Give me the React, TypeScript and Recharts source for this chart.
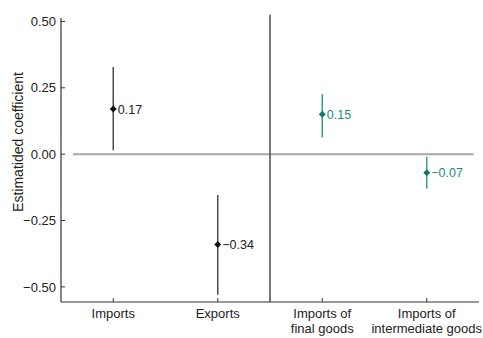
import {
  ComposedChart,
  Scatter,
  ErrorBar,
  XAxis,
  YAxis,
  ReferenceLine,
} from "recharts";

document.body.style.margin = "0";

const categories = ["Imports", "Exports", "Imports of final goods", "Imports of intermediate goods"];
const tickLabels = [["Imports"], ["Exports"], ["Imports of", "final goods"], ["Imports of", "intermediate goods"]];
const estimates = [0.17, -0.34, 0.15, -0.07];
const lower = [0.015, -0.53, 0.063, -0.129];
const upper = [0.328, -0.154, 0.226, -0.01];
const groups = ["trade", "trade", "goods", "goods"];
const yTicks = [-0.5, -0.25, 0, 0.25, 0.5];

const BLACK = "#111111";
const WHISKER = "#4a4a4a";
const TEAL = "#0e7a68";
const TEAL_TEXT = "#1d8c79";
const TEAL_WHISKER = "#3c9b8b";
const FONT = "'Liberation Sans', Arial, sans-serif";

// each category sits in the middle of its own unit band on a numeric axis
const rows = categories.map((name, i) => ({
  name,
  pos: i + 0.5,
  est: estimates[i],
  err: [estimates[i] - lower[i], upper[i] - estimates[i]],
  group: groups[i],
}));
const tradeRows = rows.filter((r) => r.group === "trade");
const goodsRows = rows.filter((r) => r.group === "goods");
const xTicks = rows.map((r) => r.pos);

const fmt = (v: number) => (v < 0 ? "\u2212" : "") + Math.abs(v).toFixed(2);

const makeShape = (fill: string, textFill: string) =>
  // eslint-disable-next-line @typescript-eslint/no-explicit-any
  (props: any) => {
    const { cx, cy, payload } = props;
    const r = 3.5;
    return (
      <g>
        <path d={`M${cx},${cy - r}L${cx + r},${cy}L${cx},${cy + r}L${cx - r},${cy}Z`} fill={fill} />
        <text x={cx + 4.5} y={cy} dy="0.36em" fontSize={12.5} fill={textFill} fontFamily={FONT}>
          {fmt(payload.est)}
        </text>
      </g>
    );
  };

// eslint-disable-next-line @typescript-eslint/no-explicit-any
const XTick = ({ x, y, index }: any) => {
  const lines = tickLabels[index] || [];
  return (
    <g>
      <line x1={x} x2={x} y1={y} y2={y - 4} stroke="#333" />
      {lines.map((t, k) => (
        <text key={k} x={x} y={y + 16 + k * 14.5} textAnchor="middle" fontSize={13} fill="#222" fontFamily={FONT}>
          {t}
        </text>
      ))}
    </g>
  );
};

// eslint-disable-next-line @typescript-eslint/no-explicit-any
const YTick = ({ x, y, payload }: any) => (
  <g>
    <line x1={x} x2={x + 4} y1={y} y2={y} stroke="#333" />
    <text x={x - 5} y={y} dy="0.36em" textAnchor="end" fontSize={13} fill="#222" fontFamily={FONT}>
      {fmt(payload.value)}
    </text>
  </g>
);

export default function App() {
  return (
    <div style={{ width: 483, height: 338, background: "#fff" }}>
      <ComposedChart width={483} height={338} margin={{ top: 18, right: 4, bottom: 0, left: 0 }}>
        <XAxis
          dataKey="pos"
          type="number"
          domain={[0, 4]}
          ticks={xTicks}
          height={36}
          tickSize={0}
          tickMargin={0}
          tick={<XTick />}
          interval={0}
          axisLine={{ stroke: "#333", strokeWidth: 1.2 }}
        />
        <YAxis
          dataKey="est"
          type="number"
          domain={[-0.557, 0.513]}
          ticks={yTicks}
          width={61}
          tickSize={0}
          tickMargin={0}
          tick={<YTick />}
          axisLine={{ stroke: "#333", strokeWidth: 1.2 }}
          label={{
            // eslint-disable-next-line @typescript-eslint/no-explicit-any
            content: (p: any) => {
              const vb = p.viewBox || { x: 0, y: 18, height: 284 };
              const cx = vb.x + 17.5;
              const cy = vb.y + vb.height / 2 - 18;
              return (
                <text
                  x={cx}
                  y={cy}
                  transform={`rotate(-90 ${cx} ${cy})`}
                  textAnchor="middle"
                  dy="0.36em"
                  fontSize={14}
                  fill="#222"
                  fontFamily={FONT}
                >
                  Estimatided coefficient
                </text>
              );
            },
          }}
        />
        <ReferenceLine
          segment={[{ x: 0.115, y: 0 }, { x: 3.95, y: 0 }]}
          stroke="#a8a8a8"
          strokeWidth={2}
        />
        <ReferenceLine
          segment={[{ x: 2, y: -0.557 }, { x: 2, y: 0.525 }]}
          stroke="#555"
          strokeWidth={1.6}
          ifOverflow="visible"
        />
        <Scatter data={tradeRows} dataKey="est" isAnimationActive={false} shape={makeShape(BLACK, "#222")}>
          <ErrorBar dataKey="err" direction="y" width={0} stroke={WHISKER} strokeWidth={1.5} isAnimationActive={false} />
        </Scatter>
        <Scatter data={goodsRows} dataKey="est" isAnimationActive={false} shape={makeShape(TEAL, TEAL_TEXT)}>
          <ErrorBar dataKey="err" direction="y" width={0} stroke={TEAL_WHISKER} strokeWidth={1.5} isAnimationActive={false} />
        </Scatter>
      </ComposedChart>
    </div>
  );
}
